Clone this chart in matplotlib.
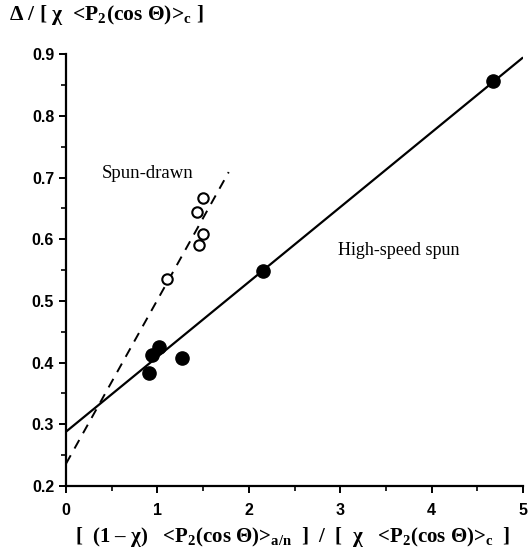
import matplotlib
matplotlib.use("Agg")
import matplotlib.pyplot as plt
import numpy as np
from matplotlib.ticker import MultipleLocator

plt.rcParams['mathtext.fontset'] = 'custom'
plt.rcParams['mathtext.rm'] = 'Liberation Serif:bold'
plt.rcParams['mathtext.it'] = 'Liberation Serif:bold'
plt.rcParams['mathtext.bf'] = 'Liberation Serif:bold'

# High-speed spun (filled)
hs_x = [0.91, 0.94, 1.02, 1.27, 2.15, 4.67]
hs_y = [0.384, 0.412, 0.425, 0.407, 0.548, 0.856]
# Spun-drawn (open)
sd_x = [1.10, 1.45, 1.50, 1.43, 1.50]
sd_y = [0.535, 0.591, 0.608, 0.645, 0.667]

# Fit lines (endpoints)
hs_line_x = [0.0, 5.0]
hs_line_y = [0.288, 0.895]
sd_line_x = [0.0, 1.78]
sd_line_y = [0.236, 0.709]

fig = plt.figure(figsize=(5.30, 5.52), dpi=100)
ax = fig.add_axes([0.1245, 0.1196, 0.8625, 0.782])

ax.plot(hs_line_x, hs_line_y, color='black', lw=1.6, solid_capstyle='butt')
ax.plot(sd_line_x, sd_line_y, color='black', lw=1.4, linestyle=(0, (5, 4)))
ax.plot(hs_x, hs_y, 'o', color='black', markersize=9.5, zorder=3)
ax.plot(sd_x, sd_y, 'o', markerfacecolor='white', markeredgecolor='black',
        markeredgewidth=1.5, markersize=7.5, zorder=3)

ax.set_xlim(0, 5)
ax.set_ylim(0.2, 0.9)
ax.xaxis.set_major_locator(MultipleLocator(1))
ax.xaxis.set_minor_locator(MultipleLocator(0.5))
ax.yaxis.set_major_locator(MultipleLocator(0.1))
ax.yaxis.set_minor_locator(MultipleLocator(0.05))
ax.set_yticklabels([f"{v:.1f}" for v in ax.get_yticks()])

for s in ['top', 'right']:
    ax.spines[s].set_visible(False)
for s in ['left', 'bottom']:
    ax.spines[s].set_linewidth(1.6)

ax.tick_params(which='major', direction='out', length=5, width=1.4,
               labelsize=11.5)
ax.tick_params(axis='x', which='major', pad=7)
ax.tick_params(which='minor', direction='out', length=3.5, width=1.2)
for lab in ax.get_xticklabels() + ax.get_yticklabels():
    lab.set_fontfamily('Liberation Sans')
    lab.set_fontweight('bold')

ax.text(0.39, 0.707, 'Spun-drawn', fontfamily='Liberation Serif',
        fontsize=13.5, ha='left', va='center')
ax.text(2.98, 0.582, 'High-speed spun', fontfamily='Liberation Serif',
        fontsize=13, ha='left', va='center')

fig.text(0.017, 0.972, r'Δ / [ χ  <P$_2$(cos Θ)>$_\mathrm{c}$ ]',
         fontfamily='Liberation Serif', fontweight='bold', fontsize=15.5,
         ha='left', va='center')
fig.text(0.552, 0.028,
         r'[  (1 – χ)   <P$_2$(cos Θ)>$_\mathrm{a/n}$  ]  /  [  χ   <P$_2$(cos Θ)>$_\mathrm{c}$  ]',
         fontfamily='Liberation Serif', fontweight='bold', fontsize=15,
         ha='center', va='center')

fig.savefig('out.png', dpi=100)
